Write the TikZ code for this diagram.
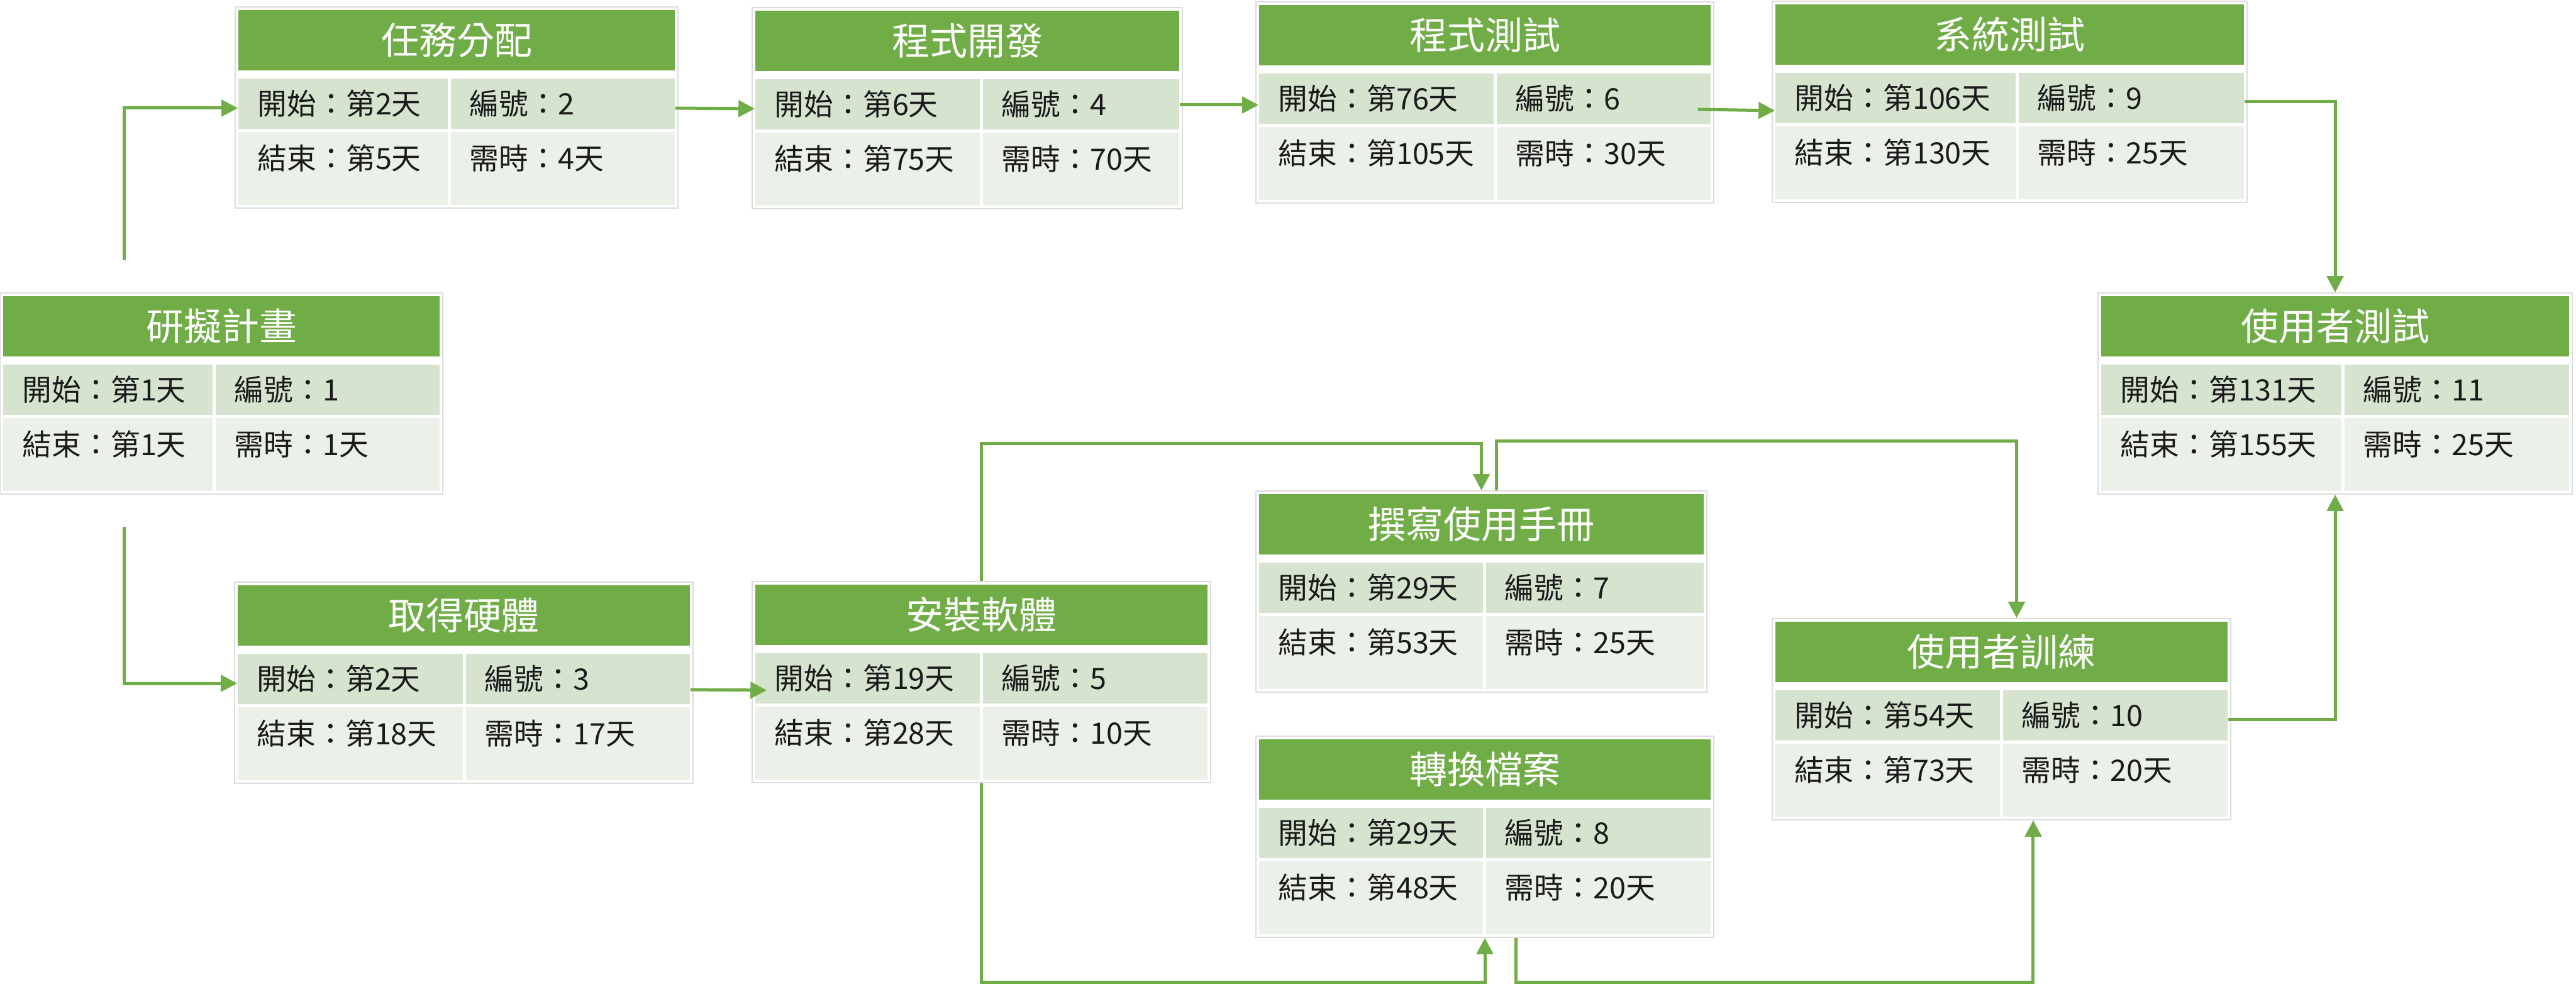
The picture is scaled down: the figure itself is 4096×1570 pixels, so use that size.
\documentclass[tikz,border=0pt]{standalone}
\usepackage{fontspec}
\setmainfont{Noto Sans CJK TC}
\usetikzlibrary{arrows.meta,calc,fit}
\definecolor{hdr}{HTML}{70AD47}
\definecolor{rowa}{HTML}{D5E3CF}
\definecolor{rowb}{HTML}{EBF0E8}
\definecolor{frm}{HTML}{DCDCDC}
\definecolor{txt}{HTML}{1A1A1A}
\tikzset{
  frame/.style={draw=frm, line width=0.4pt, fill=white, inner sep=0pt},
  hdrcell/.style={fill=hdr, draw=none, inner sep=0pt},
  cella/.style={fill=rowa, draw=none, inner sep=0pt},
  cellb/.style={fill=rowb, draw=none, inner sep=0pt},
  hdrtext/.style={text=white, inner sep=0pt, font=\fontsize{15pt}{18pt}\selectfont},
  bodytext/.style={text=txt, inner sep=0pt, anchor=west, font=\fontsize{11.7pt}{14pt}\selectfont},
  conn/.style={draw=hdr, line width=1.25pt, -{Triangle[length=6.5pt,width=6.5pt]}}
}
% #1 num, #2 left, #3 right, #4 split, #5 top, #6 title, #7 start, #8 end, #9 duration
\newcommand\taskbox[9]{%
  \node[frame, fit={(#2-5,#5-5) (#3+5,#5+315)}] (b#1) {};
  \node[hdrcell, fit={(#2,#5) (#3,#5+96)}] (b#1h) {};
  \node[hdrtext] (b#1t) at (b#1h.center) {#6};
  \node[cella, fit={(#2,#5+109) (#4-2.5,#5+189)}] (b#1s) {};
  \node[cella, fit={(#4+2.5,#5+109) (#3,#5+189)}] (b#1i) {};
  \node[cellb, fit={(#2,#5+194) (#4-2.5,#5+310)}] (b#1e) {};
  \node[cellb, fit={(#4+2.5,#5+194) (#3,#5+310)}] (b#1d) {};
  \node[bodytext] (b#1st) at (#2+30,#5+149) {開始：第#7天};
  \node[bodytext] (b#1nt) at (#4+32,#5+149) {編號：#1};
  \node[bodytext] (b#1et) at (#2+30,#5+236) {結束：第#8天};
  \node[bodytext] (b#1dt) at (#4+32,#5+236) {需時：#9天};
}
\begin{document}
\begin{tikzpicture}[x=0.25pt,y=-0.25pt]
\useasboundingbox (0,0) rectangle (4096,1570);
\fill[white] (0,0) rectangle (4096,1570);

\taskbox{1}{5}{699}{340}{471}{研擬計畫}{1}{1}{1}
\taskbox{2}{379}{1073}{714}{16}{任務分配}{2}{5}{4}
\taskbox{3}{378}{1097}{738}{931}{取得硬體}{2}{18}{17}
\taskbox{4}{1201}{1875}{1560}{17}{程式開發}{6}{75}{70}
\taskbox{5}{1201}{1920}{1560}{930}{安裝軟體}{19}{28}{10}
\taskbox{6}{2002}{2720}{2377}{8}{程式測試}{76}{105}{30}
\taskbox{7}{2002}{2709}{2360}{786}{撰寫使用手冊}{29}{53}{25}
\taskbox{8}{2002}{2720}{2360}{1176}{轉換檔案}{29}{48}{20}
\taskbox{9}{2823}{3568}{3207}{7}{系統測試}{106}{130}{25}
\taskbox{10}{2823}{3542}{3182}{989}{使用者訓練}{54}{73}{20}
\taskbox{11}{3341}{4085}{3725}{471}{使用者測試}{131}{155}{25}

% helper coordinates
\coordinate (cA) at (197,414);
\coordinate (cB) at (197,838);
\coordinate (yTopA) at (0,706);
\coordinate (yTopB) at (0,702);
\coordinate (yBot) at (0,1562);
\coordinate (i1) at ([xshift=6pt]b7.north);
\coordinate (i2) at ([xshift=6pt]b10.north);
\coordinate (k1) at ([xshift=12.25pt]b8.south);
\coordinate (k2) at ([xshift=12.6pt]b10.south);

% connectors
\draw[conn] (cA) |- ([yshift=-1.75pt]b2s.west);
\draw[conn] (cB) |- ([yshift=-1.75pt]b3s.west);
\draw[conn] ([yshift=-1.75pt]b2i.east) -- ([yshift=-1.75pt]b4s.west);
\draw[conn] ([yshift=-0.25pt]b4i.east) -- ([yshift=-2.5pt]b6s.west);
\draw[conn] ([xshift=-5.25pt,yshift=-4.25pt]b6i.east) -- ([yshift=-5pt]b9s.west);
\draw[conn] ([yshift=-1.5pt]b9i.east) -| (b11.north);
\draw[conn] ([yshift=-4.25pt]b3i.east) -- ([xshift=4.75pt,yshift=-4.75pt]b5s.west);
\draw[conn] (b5.north) -- (b5.north |- yTopA) -| (b7.north);
\draw[conn] (i1) -- (i1 |- yTopB) -| (i2);
\draw[conn] (b5.south) -- (b5.south |- yBot) -| (b8.south);
\draw[conn] (k1) -- (k1 |- yBot) -| (k2);
\draw[conn] ([yshift=-1.5pt]b10i.east) -| (b11.south);
\end{tikzpicture}
\end{document}
